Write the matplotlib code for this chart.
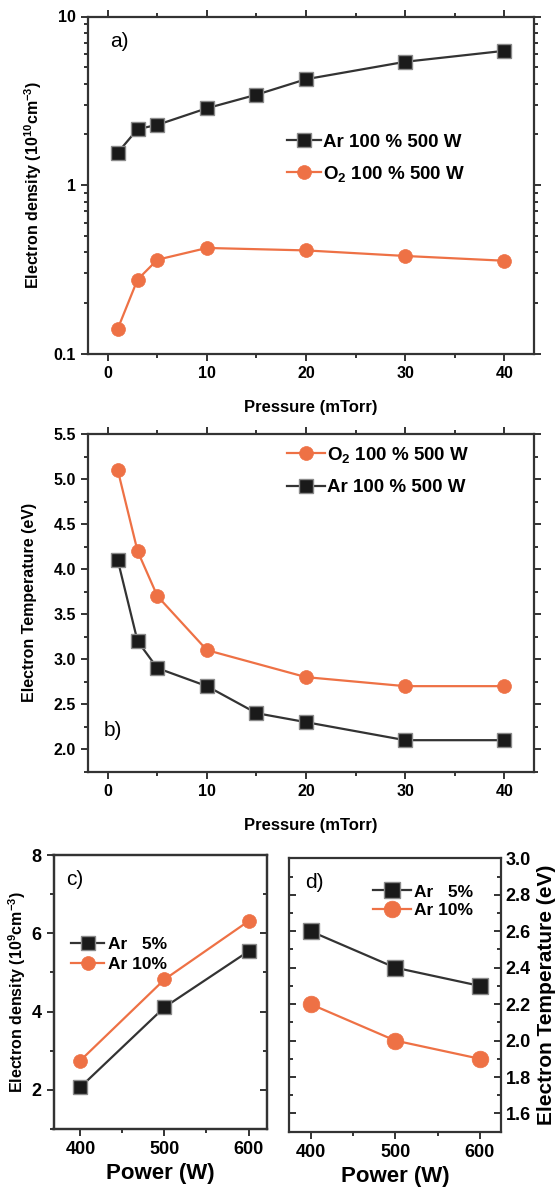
import matplotlib
matplotlib.use("Agg")
import matplotlib.pyplot as plt
from matplotlib.ticker import MultipleLocator, FixedLocator, LogLocator, NullFormatter, FuncFormatter

plt.rcParams['font.family'] = ['Liberation Sans', 'DejaVu Sans']
plt.rcParams['font.weight'] = 'bold'
plt.rcParams['axes.labelweight'] = 'bold'
plt.rcParams['mathtext.fontset'] = 'custom'
plt.rcParams['mathtext.rm'] = 'Liberation Sans:bold'
plt.rcParams['mathtext.it'] = 'Liberation Sans:bold'
plt.rcParams['mathtext.bf'] = 'Liberation Sans:bold'

# ---- data ----
pressure_ar = [1, 3, 5, 10, 15, 20, 30, 40]
pressure_o2 = [1, 3, 5, 10, 20, 30, 40]
ne_ar = [1.56, 2.15, 2.28, 2.86, 3.44, 4.25, 5.39, 6.26]
ne_o2 = [0.141, 0.276, 0.362, 0.425, 0.411, 0.381, 0.357]
te_ar = [4.1, 3.2, 2.9, 2.7, 2.4, 2.3, 2.1, 2.1]
te_o2 = [5.1, 4.2, 3.7, 3.1, 2.8, 2.7, 2.7]

power = [400, 500, 600]
ne_ar5 = [2.07, 4.11, 5.54]
ne_ar10 = [2.75, 4.82, 6.31]
te_ar5 = [2.6, 2.4, 2.3]
te_ar10 = [2.2, 2.0, 1.9]

lbl_ar = 'Ar 100 % 500 W'
lbl_o2 = 'O$_2$ 100 % 500 W'
lbl_p5 = 'Ar   5%'
lbl_p10 = 'Ar 10%'

BLACK = '#1a1a1a'
LINE_K = '#333333'
ORANGE = '#EE7145'
SPINE = '#333333'

W, H = 560, 1187
fig = plt.figure(figsize=(W / 100, H / 100), dpi=100)


def frame(ax, lw=1.6):
    for s in ax.spines.values():
        s.set_color(SPINE)
        s.set_linewidth(lw)


def sq_kw(ms):
    return dict(color=LINE_K, lw=1.6, marker='s', ms=ms, mfc=BLACK, mec='#8a8a8a', mew=1.0)


def ci_kw(ms):
    return dict(color=ORANGE, lw=1.6, marker='o', ms=ms, mfc=ORANGE, mec=ORANGE, mew=0.5)


def bold_ticks(ax):
    for t in ax.get_xticklabels() + ax.get_yticklabels():
        t.set_fontweight('bold')


# ---- a) electron density vs pressure ----
ax = fig.add_axes([88 / W, 1 - 354 / H, 446 / W, 337.5 / H])
ax.plot(pressure_ar, ne_ar, label=lbl_ar, **sq_kw(10))
ax.plot(pressure_o2, ne_o2, label=lbl_o2, **ci_kw(10))
ax.set_yscale('log')
ax.set_ylim(0.1, 10)
ax.set_xlim(-2, 43)
ax.xaxis.set_major_locator(MultipleLocator(10))
ax.xaxis.set_minor_locator(MultipleLocator(5))
ax.yaxis.set_major_locator(LogLocator(base=10, numticks=5))
ax.yaxis.set_minor_locator(LogLocator(base=10, subs=range(2, 10), numticks=20))
ax.yaxis.set_minor_formatter(NullFormatter())
ax.yaxis.set_major_formatter(FuncFormatter(lambda v, p: {0.1: '0.1', 1: '1', 10: '10'}.get(round(v, 3), '')))
ax.tick_params(which='both', direction='out', top=True, right=True, colors=SPINE, labelcolor='black', labelsize=11.5, width=1.4)
ax.tick_params(which='major', length=5)
ax.tick_params(which='minor', length=3)
ax.set_xlabel('Pressure (mTorr)', fontsize=12, labelpad=14)
ax.set_ylabel('Electron density (10$^{10}$cm$^{-3}$)', fontsize=11.5, labelpad=7)
ax.text(0.05, 0.925, 'a)', transform=ax.transAxes, fontsize=15, fontweight='normal', va='center')
ax.legend(loc='upper left', bbox_to_anchor=(0.43, 0.675), frameon=False, fontsize=13.5,
          handlelength=1.8, handletextpad=0.1, labelspacing=0.7, borderaxespad=0)
bold_ticks(ax)
frame(ax)

# ---- b) electron temperature vs pressure ----
ax = fig.add_axes([88 / W, 1 - 771.7 / H, 446 / W, 337.7 / H])
ax.plot(pressure_o2, te_o2, label=lbl_o2, **ci_kw(10))
ax.plot(pressure_ar, te_ar, label=lbl_ar, **sq_kw(10))
ax.set_ylim(1.75, 5.5)
ax.set_xlim(-2, 43)
ax.xaxis.set_major_locator(MultipleLocator(10))
ax.xaxis.set_minor_locator(MultipleLocator(5))
ax.yaxis.set_major_locator(FixedLocator([2.0, 2.5, 3.0, 3.5, 4.0, 4.5, 5.0, 5.5]))
ax.yaxis.set_minor_locator(MultipleLocator(0.25))
ax.yaxis.set_major_formatter(FuncFormatter(lambda v, p: f'{v:.1f}'))
ax.tick_params(which='both', direction='out', top=True, right=True, colors=SPINE, labelcolor='black', labelsize=11.5, width=1.4)
ax.tick_params(which='major', length=5)
ax.tick_params(which='minor', length=3)
ax.set_xlabel('Pressure (mTorr)', fontsize=12, labelpad=14)
ax.set_ylabel('Electron Temperature (eV)', fontsize=11.5, labelpad=12)
ax.text(0.035, 0.123, 'b)', transform=ax.transAxes, fontsize=15, fontweight='normal', va='center')
ax.legend(loc='upper left', bbox_to_anchor=(0.43, 0.99), frameon=False, fontsize=13.5,
          handlelength=2.0, handletextpad=0.1, labelspacing=0.75, borderaxespad=0)
bold_ticks(ax)
frame(ax)

# ---- c) electron density vs power ----
ax = fig.add_axes([53.5 / W, 1 - 1129 / H, 213.5 / W, 274 / H])
ax.plot(power, ne_ar5, label=lbl_p5, **sq_kw(10))
ax.plot(power, ne_ar10, label=lbl_p10, **ci_kw(10))
ax.set_ylim(1, 8)
ax.set_xlim(368, 622)
ax.xaxis.set_major_locator(MultipleLocator(100))
ax.xaxis.set_minor_locator(MultipleLocator(50))
ax.yaxis.set_major_locator(MultipleLocator(2))
ax.yaxis.set_minor_locator(MultipleLocator(1))
ax.tick_params(which='both', direction='out', colors=SPINE, labelcolor='black', labelsize=13, width=1.4)
ax.tick_params(which='major', length=5)
ax.tick_params(which='minor', length=3)
ax.set_xlabel('Power (W)', fontsize=16, labelpad=4)
ax.set_ylabel('Electron density (10$^{9}$cm$^{-3}$)', fontsize=11.5, labelpad=3)
ax.text(0.1, 0.91, 'c)', transform=ax.transAxes, fontsize=15, fontweight='normal', va='center', ha='center')
ax.legend(loc='upper left', bbox_to_anchor=(0.05, 0.725), frameon=False, fontsize=12.5,
          handlelength=1.9, handletextpad=0.2, labelspacing=0.25, borderaxespad=0)
bold_ticks(ax)
frame(ax)
axr = ax.twinx()
axr.set_ylim(ax.get_ylim())
axr.yaxis.set_major_locator(MultipleLocator(2))
axr.yaxis.set_minor_locator(MultipleLocator(1))
axr.tick_params(which='both', direction='in', labelright=False, colors=SPINE, width=1.4)
axr.tick_params(which='major', length=5)
axr.tick_params(which='minor', length=3)
frame(axr)

# ---- d) electron temperature vs power ----
ax = fig.add_axes([289.4 / W, 1 - 1131.7 / H, 211.6 / W, 273.4 / H])
ax.plot(power, te_ar5, label=lbl_p5, **sq_kw(12))
ax.plot(power, te_ar10, label=lbl_p10, **ci_kw(12))
ax.set_ylim(1.5, 3.0)
ax.set_xlim(375, 625)
ax.xaxis.set_major_locator(MultipleLocator(100))
ax.xaxis.set_minor_locator(MultipleLocator(50))
ax.yaxis.set_major_locator(MultipleLocator(0.2))
ax.yaxis.set_minor_locator(MultipleLocator(0.1))
ax.yaxis.tick_right()
ax.yaxis.set_label_position('right')
ax.yaxis.set_major_formatter(FuncFormatter(lambda v, p: f'{v:.1f}'))
ax.tick_params(which='both', direction='out', colors=SPINE, labelcolor='black', labelsize=13, width=1.4)
ax.tick_params(which='major', length=5)
ax.tick_params(which='minor', length=3)
ax.tick_params(axis='y', which='both', left=True, direction='in')
ax.tick_params(axis='y', which='both', right=True)
ax.set_xlabel('Power (W)', fontsize=16, labelpad=4)
ax.set_ylabel('Electron Temperature (eV)', fontsize=15, labelpad=4)
ax.text(0.12, 0.91, 'd)', transform=ax.transAxes, fontsize=15, fontweight='normal', va='center', ha='center')
ax.legend(loc='upper left', bbox_to_anchor=(0.36, 0.93), frameon=False, fontsize=12.5,
          handlelength=2.2, handletextpad=0.2, labelspacing=0.2, borderaxespad=0)
bold_ticks(ax)
frame(ax)

fig.savefig('out.png', dpi=100)
